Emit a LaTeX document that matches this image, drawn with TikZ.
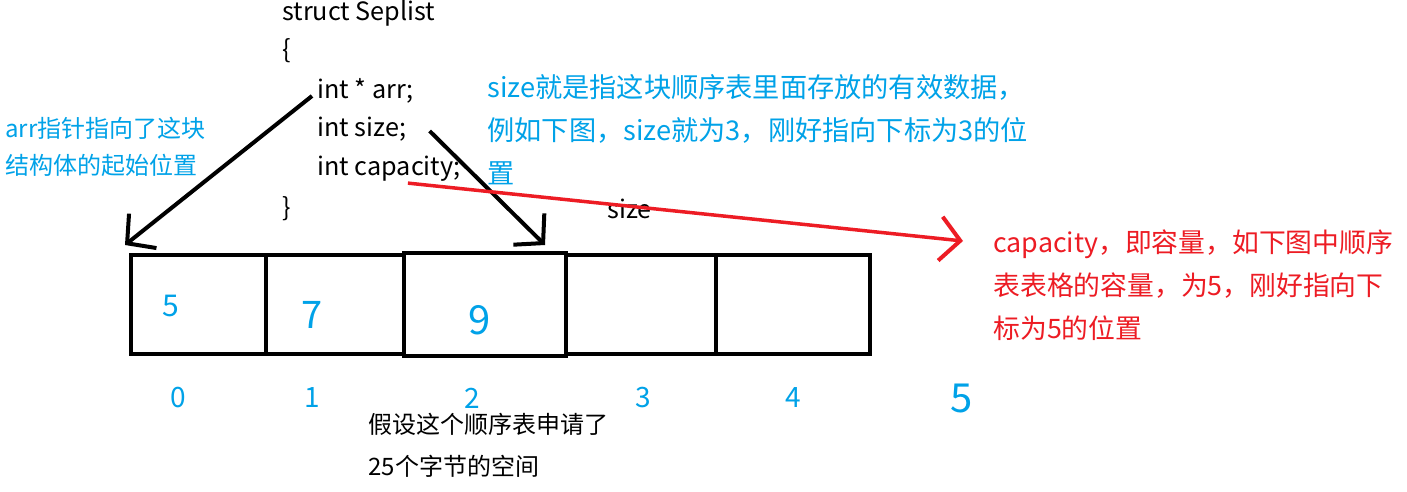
\documentclass[tikz,border=0pt]{standalone}
\usepackage{fontspec}
\setmainfont{Noto Sans CJK SC}
\usetikzlibrary{arrows.meta}
\definecolor{noteblue}{RGB}{0,162,232}
\definecolor{notered}{RGB}{237,28,36}
\tikzset{
    cell/.style={draw, line width=2pt, inner sep=0pt, outer sep=0pt, minimum height=49.5pt},
    code/.style={anchor=west, inner sep=0pt, font=\fontsize{12.6}{14}\selectfont},
    val/.style={inner sep=0pt, text=noteblue},
    idx/.style={inner sep=0pt, text=noteblue, font=\fontsize{14}{16}\selectfont},
    ptr/.style={line width=2pt, -{Straight Barb[length=10pt, width=22pt, line width=2pt]}},
}

\begin{document}
\begin{tikzpicture}[x=0.5pt, y=-0.5pt]
        \fill[white] (0,0) rectangle (1407,492);
        \useasboundingbox (0,0) rectangle (1407,492);
        % the struct
        \node[code] (STRUCT) at (282,13) {struct Seplist};
        \node[code] (LBRACE) at (282,51) {\{};
        \node[code] (ARR) at (317,91) {int * arr;};
        \node[code] (SIZE) at (317,129) {int size;};
        \node[code] (CAP) at (317,169) {int capacity;};
        \node[code] (RBRACE) at (282,209) {\}};
        \node[code] (SIZELBL) at (607,209) {size};
        % notes
        \node[anchor=west, inner sep=0pt, align=left, text=noteblue,
            font=\fontsize{12}{18.5}\selectfont] (ARRNOTE) at (5,147) {
            arr指针指向了这块\\结构体的起始位置
        };
        \node[anchor=west, inner sep=0pt, align=left, text=noteblue,
            font=\fontsize{13.6}{21.5}\selectfont] (SIZENOTE) at (487,130) {
            size就是指这块顺序表里面存放的有效数据，\\例如下图，size就为3，刚好指向下标为3的位\\置
        };
        \node[anchor=west, inner sep=0pt, align=left, text=notered,
            font=\fontsize{13.4}{21.5}\selectfont] (CAPNOTE) at (993,285) {
            capacity，即容量，如下图中顺序\\表表格的容量，为5，刚好指向下\\标为5的位置
        };
        \node[anchor=west, inner sep=0pt, align=left,
            font=\fontsize{12}{21}\selectfont] (BYTES) at (368,445) {
            假设这个顺序表申请了\\25个字节的空间
        };
        % the table
        \node[cell, minimum width=67.5pt] (CELL0) at (198.5,304.5) {};
        \node[cell, minimum width=69pt] (CELL1) at (335,304.5) {};
        \node[cell, minimum width=75pt] (CELL3) at (641,304.5) {};
        \node[cell, minimum width=77pt] (CELL4) at (793,304.5) {};
        \node[cell, minimum width=81pt, minimum height=51.5pt] (CELL2) at (485,304.5) {};
        \node[val, font=\fontsize{15}{17}\selectfont] (VAL0) at (171,306) {5};
        \node[val, font=\fontsize{19}{21}\selectfont] (VAL1) at (312,315) {7};
        \node[val, font=\fontsize{20}{22}\selectfont] (VAL2) at (480,320) {9};
        \node[idx] (IDX0) at (178,398) {0};
        \node[idx] (IDX1) at (312,398) {1};
        \node[idx] (IDX2) at (472,398) {2};
        \node[idx] (IDX3) at (643,398) {3};
        \node[idx] (IDX4) at (793,398) {4};
        \node[idx, font=\fontsize{20}{22}\selectfont] (IDX5) at (962,398) {5};
        % pointers
        \draw[ptr] ([shift={(-5,5)}]ARR.west) -- ([shift={(-6,-10)}]CELL0.north west);
        \draw[ptr] ([shift={(23,2)}]SIZE.east) -- ([shift={(-21,-8)}]CELL2.north east);
        \draw[ptr, notered, line width=1.75pt] ([shift={(19,1)}]CAP.south) -- ([shift={(-30,-44)}]CAPNOTE.west);
\end{tikzpicture}
\end{document}
